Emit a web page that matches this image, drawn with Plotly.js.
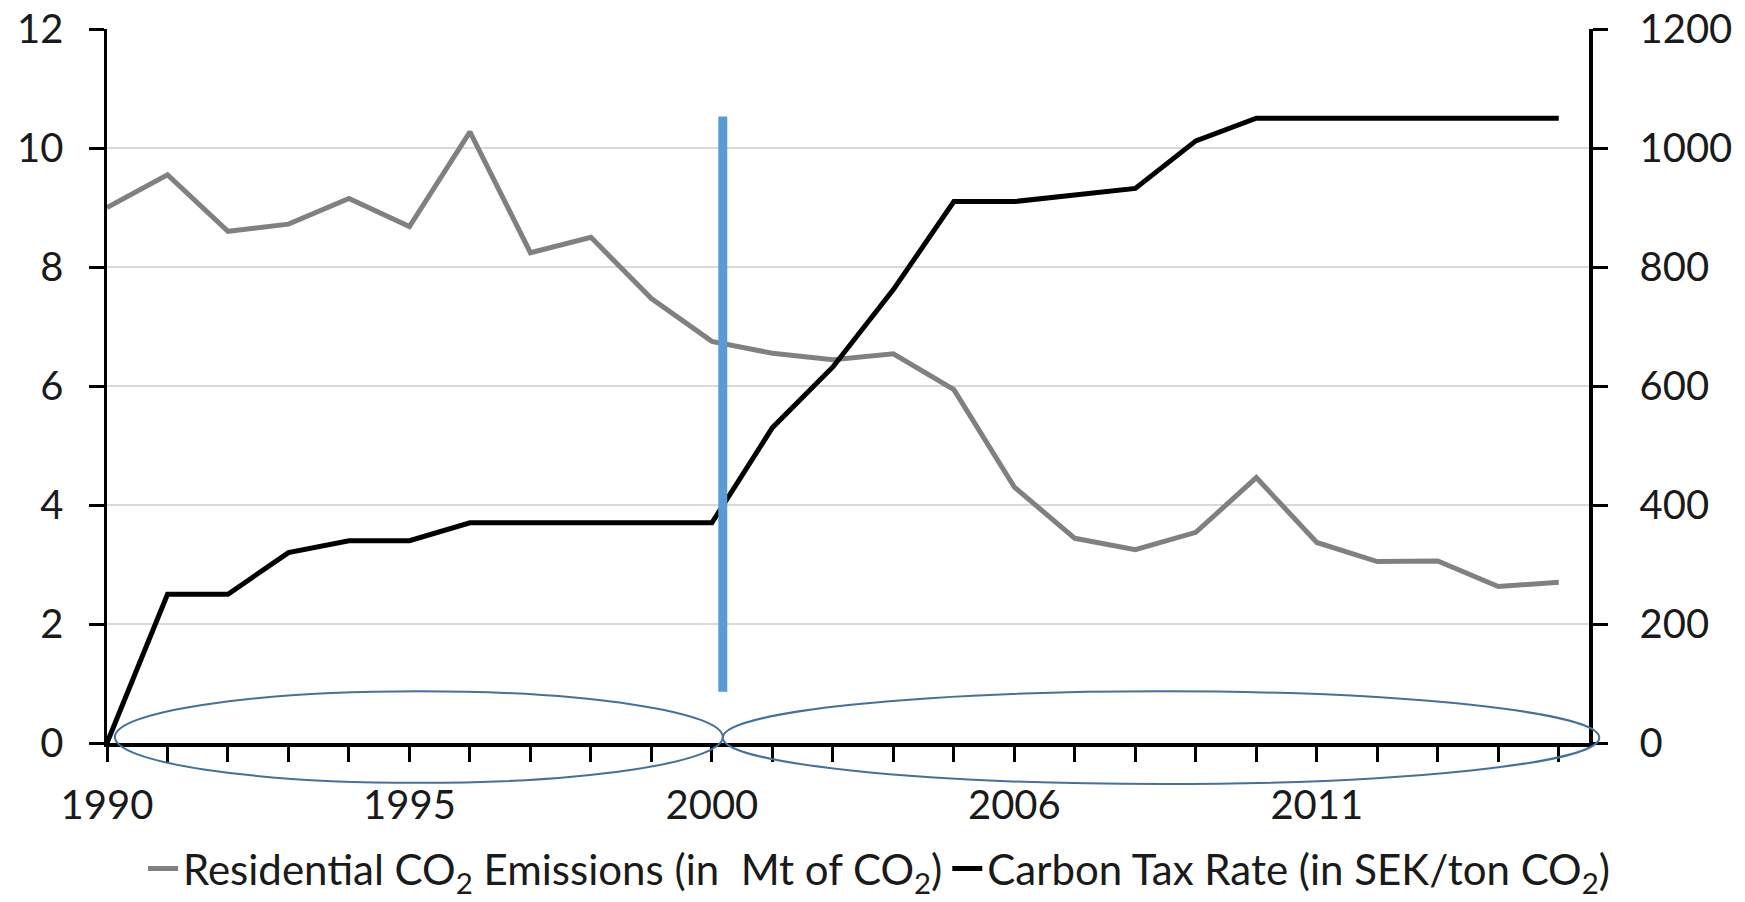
<!DOCTYPE html>
<html>
<head>
<meta charset="utf-8">
<script src="https://cdn.plot.ly/plotly-3.0.1.min.js"></script>
<style>
  html, body { margin: 0; padding: 0; background: #fff; }
  #chart { width: 1745px; height: 902px; }
</style>
</head>
<body>
<div id="chart"></div>
<script>
// Category labels (one year is absent from the source series between 2000 and 2006)
const years = ['1990','1991','1992','1993','1994','1995','1996','1997','1998','1999','2000',
               '2002','2003','2004','2005','2006','2007','2008','2009','2010','2011',
               '2012','2013','2014','2015'];
const labelledYears = ['1990','1995','2000','2006','2011'];

// Residential CO2 emissions (Mt of CO2) - left axis
const emissions = [9.0, 9.55, 8.6, 8.72, 9.15, 8.68, 10.27, 8.24, 8.5, 7.47, 6.75,
                   6.55, 6.44, 6.54, 5.94, 4.3, 3.44, 3.25, 3.54, 4.46, 3.37,
                   3.05, 3.06, 2.63, 2.7];

// Carbon tax rate (SEK/ton CO2) - right axis
const taxRate = [0, 250, 250, 320, 340, 340, 370, 370, 370, 370, 370,
                 530, 632, 762, 910, 910, 920, 932, 1012, 1050, 1050,
                 1050, 1050, 1050, 1050];

const seriesNames = ['Residential CO<sub>2</sub> Emissions (in\u00a0 Mt of CO<sub>2</sub>)',
                     'Carbon Tax Rate (in SEK/ton CO<sub>2</sub>)'];

const FONT = 'Lato, "Open Sans", "DejaVu Sans", sans-serif';
const xMax = years.length - 0.5;
const yMax = 12;

const traces = [
  {
    x: years, y: emissions, name: seriesNames[0], type: 'scatter', mode: 'lines',
    line: { color: '#808080', width: 5 }, yaxis: 'y'
  },
  {
    x: years, y: taxRate, name: seriesNames[1], type: 'scatter', mode: 'lines',
    line: { color: '#000000', width: 5 }, yaxis: 'y2'
  }
];

// helper: data units -> paper fraction (so ellipses can extend past the plot edges)
const px = v => v / xMax;
const py = v => v / yMax;

const ellipseColor = '#41719C';
const shapes = [
  { type: 'line', xref: 'x', yref: 'y', x0: 10.18, x1: 10.18, y0: 0.86, y1: 10.53,
    line: { color: '#5B9BD5', width: 9 }, layer: 'above' },
  { type: 'circle', xref: 'paper', yref: 'paper',
    x0: px(0.13), x1: px(10.18), y0: py(-0.67), y1: py(0.87),
    line: { color: ellipseColor, width: 2 }, fillcolor: 'rgba(0,0,0,0)', layer: 'above' },
  { type: 'circle', xref: 'paper', yref: 'paper',
    x0: px(10.18), x1: px(24.67), y0: py(-0.69), y1: py(0.87),
    line: { color: ellipseColor, width: 2 }, fillcolor: 'rgba(0,0,0,0)', layer: 'above' }
];

const layout = {
  width: 1745, height: 902,
  margin: { l: 107, r: 156, t: 29, b: 159 },
  paper_bgcolor: '#ffffff', plot_bgcolor: '#ffffff',
  font: { family: FONT, size: 40, color: '#1a1a1a' },
  showlegend: true,
  legend: {
    orientation: 'h', xref: 'container', yref: 'container',
    x: 0.504, xanchor: 'center', y: 0.037, yanchor: 'middle',
    font: { family: FONT, size: 42, color: '#1a1a1a' },
    bgcolor: 'rgba(0,0,0,0)', itemwidth: 30
  },
  xaxis: {
    type: 'category', range: [0, xMax],
    tickmode: 'array', tickvals: years,
    ticktext: years.map(y => labelledYears.includes(y) ? y : ''),
    ticks: 'outside', ticklen: 15, tickwidth: 3, tickcolor: '#000',
    showline: true, linecolor: '#000', linewidth: 3.5,
    showgrid: false, zeroline: false,
    ticklabelstandoff: 9,
    tickfont: { family: FONT, size: 40, color: '#1a1a1a' }
  },
  yaxis: {
    range: [0, 12], tickmode: 'linear', tick0: 0, dtick: 2,
    ticks: 'outside', ticklen: 15, tickwidth: 3, tickcolor: '#000',
    showline: true, linecolor: '#000', linewidth: 3.5,
    showgrid: true, gridcolor: '#d9d9d9', gridwidth: 1.5,
    zeroline: false,
    ticklabelstandoff: 17,
    tickfont: { family: FONT, size: 40, color: '#1a1a1a' }
  },
  yaxis2: {
    range: [0, 1200], tickmode: 'linear', tick0: 0, dtick: 200,
    overlaying: 'y', side: 'right', anchor: 'x',
    ticks: 'outside', ticklen: 15, tickwidth: 3, tickcolor: '#000',
    showline: true, linecolor: '#000', linewidth: 3.5,
    showgrid: false, zeroline: false,
    ticklabelstandoff: 24,
    tickfont: { family: FONT, size: 40, color: '#1a1a1a' }
  },
  shapes: shapes
};

Plotly.newPlot('chart', traces, layout, { displayModeBar: false, staticPlot: true });
</script>
</body>
</html>
